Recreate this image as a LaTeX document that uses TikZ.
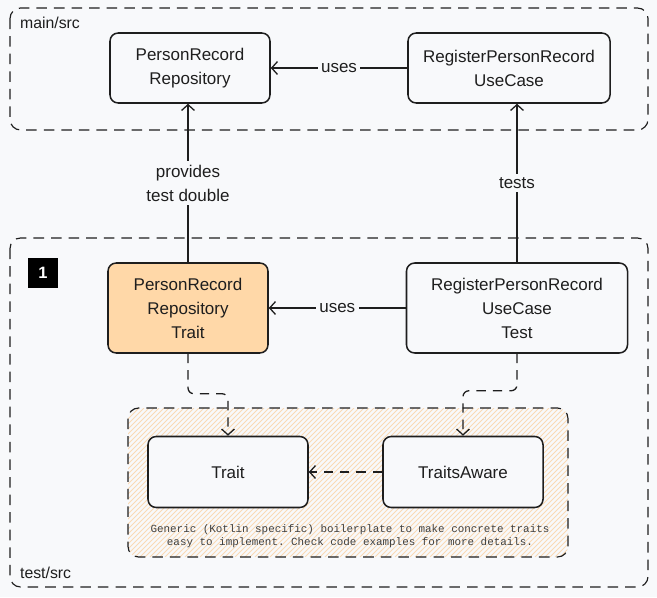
\documentclass[tikz,border=0pt]{standalone}
\usepackage{fontspec}
\setmainfont{Liberation Sans}
\setmonofont{Liberation Mono}
\usetikzlibrary{arrows.meta, positioning}
\definecolor{mybg}{RGB}{248, 249, 251}
\definecolor{myink}{RGB}{30, 30, 30}
\definecolor{myorange}{RGB}{255, 216, 168}
\definecolor{myhatch}{RGB}{250, 218, 180}

\begin{document}
\begin{tikzpicture}[x=0.03cm,y=-0.03cm,
          box/.style={draw=myink,line width=1.3pt,rounded corners=7pt,fill=mybg,
                      align=center,text=myink,font=\fontsize{14.5}{20.5}\selectfont},
          area/.style={draw=myink,line width=1pt,dash pattern=on 9pt off 6pt,
                       rounded corners=9pt},
          conn/.style={draw=myink,line width=1.1pt,
                       -{Straight Barb[length=5pt,width=11pt]}},
          lbl/.style={fill=mybg,text=myink,align=center,inner sep=3pt,
                      font=\fontsize{14.5}{20.5}\selectfont}]
        % background
        \fill[mybg] (0,0) rectangle (657,597);
        % source sets
        \draw[area] (10,8) rectangle (648,130);
        \node[anchor=west,text=myink,font=\fontsize{13.5}{14}\selectfont](mainlbl) at (16,23){main/src};
        \draw[area] (10,238) rectangle (648,587);
        \node[anchor=west,text=myink,font=\fontsize{13.5}{14}\selectfont](testlbl) at (16,573){test/src};
        % hatched boilerplate area
        \begin{scope}
          \clip[rounded corners=9pt] (128,408) rectangle (568,557);
          \foreach \i in {-5,...,114}
            \draw[myhatch,line width=0.7pt] (\i*5,557) -- ++(149,-149);
        \end{scope}
        \draw[area] (128,408) rectangle (568,557);

        \node[fill=black,text=white,minimum size=0.9cm,
              font=\bfseries\fontsize{14}{14}\selectfont](badge) at (43,273){1};

        \node[box,minimum width=4.8cm,minimum height=2.1cm](prr) at (190,68){
          PersonRecord\\Repository};
        \node[box,minimum width=6.06cm,minimum height=2.1cm](uc) at (509,68){
          RegisterPersonRecord\\UseCase};
        \node[box,fill=myorange,minimum width=4.8cm,minimum height=2.7cm](prrt) at (188,308){
          PersonRecord\\Repository\\Trait};
        \node[box,minimum width=6.63cm,minimum height=2.7cm](uct) at (517,308){
          RegisterPersonRecord\\UseCase\\Test};
        \node[box,minimum width=4.8cm,minimum height=2.13cm](trait) at (228,472){Trait};
        \node[box,minimum width=4.8cm,minimum height=2.13cm](tawr) at (463,472){TraitsAware};

        \node[text=myink!85,align=center,font=\ttfamily\fontsize{9.3}{11}\selectfont](note) at (350,536){
          Generic (Kotlin specific) boilerplate to make concrete traits\\
          easy to implement. Check code examples for more details.};

        \draw[conn](uc)--(prr) node[lbl,midway]{uses};
        \draw[conn](uct)--(prrt) node[lbl,midway]{uses};
        \draw[conn](prrt.north)--(prrt.north |- prr.south)
          node[lbl,midway]{provides\\test double};
        \draw[conn](uct.north)--(uct.north |- uc.south)
          node[lbl,midway]{tests};
        \draw[conn,dash pattern=on 8pt off 6pt,rounded corners=5pt]
          (prrt.south)--++(0,40)-|(trait.north);
        \draw[conn,dash pattern=on 8pt off 6pt,rounded corners=5pt]
          (uct.south)--++(0,37)-|(tawr.north);
        \draw[conn,dash pattern=on 8pt off 6pt](tawr)--(trait);
      \end{tikzpicture}
\end{document}
